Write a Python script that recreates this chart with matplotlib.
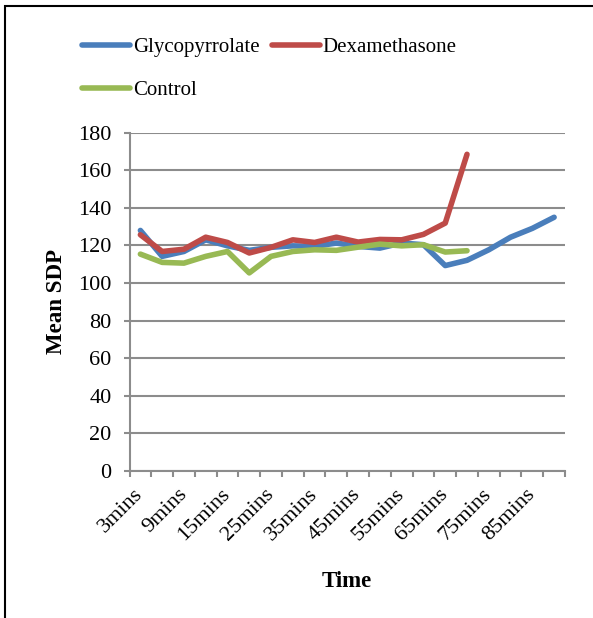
import matplotlib
matplotlib.use("Agg")
import matplotlib.pyplot as plt
from matplotlib.patches import Rectangle

categories = ["3mins", "6mins", "9mins", "12mins", "15mins", "20mins", "25mins", "30mins",
              "35mins", "40mins", "45mins", "50mins", "55mins", "60mins", "65mins", "70mins",
              "75mins", "80mins", "85mins", "90mins"]
glycopyrrolate = [128, 114.2, 116.8, 123, 119.8, 117.4, 119, 119.8, 119.5, 121.3,
                  119.5, 118.6, 121.3, 120.4, 109.3, 112.1, 117.7, 124.4, 129.1, 135]
dexamethasone = [125.7, 116.8, 118, 124.4, 121.6, 116, 119, 123, 121.6, 124.4,
                 121.8, 123.2, 123, 125.9, 131.9, 168.5]
control = [115.4, 111, 110.6, 114.2, 116.8, 105.4, 114.2, 116.8, 117.7, 117.4,
           119.1, 120.7, 119.8, 120.4, 116.5, 117.2]
yticks = [0, 20, 40, 60, 80, 100, 120, 140, 160, 180]

plt.rcParams['font.family'] = ['Liberation Serif', 'DejaVu Serif']

W, H = 593, 618
fig = plt.figure(figsize=(W / 100, H / 100), dpi=100)
ax = fig.add_axes([129.5 / W, 1 - 471 / H, (565 - 129.5) / W, (471 - 132.7) / H])

c_blue = "#4A7EBB"
c_red = "#BE4B48"
c_green = "#98B954"
lw = 4.0

x = list(range(len(categories)))
lg, = ax.plot(x[:len(glycopyrrolate)], glycopyrrolate, color=c_blue, lw=lw,
              solid_capstyle='round', solid_joinstyle='round', label="Glycopyrrolate")
ld, = ax.plot(x[:len(dexamethasone)], dexamethasone, color=c_red, lw=lw,
              solid_capstyle='round', solid_joinstyle='round', label="Dexamethasone")
lc, = ax.plot(x[:len(control)], control, color=c_green, lw=lw,
              solid_capstyle='round', solid_joinstyle='round', label="Control")

ax.set_xlim(-0.5, len(categories) - 0.5)
ax.set_ylim(0, 180)
ax.set_yticks(yticks)
ax.yaxis.grid(True, color="#8C8C8C", lw=1.5)
ax.set_axisbelow(True)

ax.set_xticks([i for i in x if i % 2 == 0])
ax.set_xticklabels([categories[i] for i in x if i % 2 == 0], rotation=45,
                   ha='right', va='center', rotation_mode='anchor')
ax.set_xticks([i - 0.5 for i in range(len(categories) + 1)], minor=True)
ax.tick_params(axis='x', which='major', length=0, pad=15, labelsize=16)
ax.tick_params(axis='x', which='minor', length=4, width=1.5, color="#8C8C8C")
ax.tick_params(axis='y', length=4, width=1.5, color="#8C8C8C", pad=9, labelsize=16)

for s in ['top', 'right']:
    ax.spines[s].set_visible(False)
for s in ['left', 'bottom']:
    ax.spines[s].set_color("#8C8C8C")
    ax.spines[s].set_linewidth(1.5)

ax.set_xlabel("Time", fontsize=16.5, fontweight='bold', labelpad=19)
ax.set_ylabel("Mean SDP", fontsize=16.5, fontweight='bold', labelpad=8)

leg = fig.legend(handles=[lg, lc, ld], ncol=2, frameon=False, fontsize=15,
                 loc='upper left', bbox_to_anchor=(74 / W, 1 - 29 / H),
                 handlelength=2.3, handletextpad=0.12, columnspacing=0.6,
                 labelspacing=1.15, borderaxespad=0)

fig.patches.append(Rectangle((5 / W, -0.1), 1.2, 1.1 - 6 / H,
                             transform=fig.transFigure, fill=False,
                             edgecolor='black', lw=1.5))

fig.savefig("out.png", dpi=100)
